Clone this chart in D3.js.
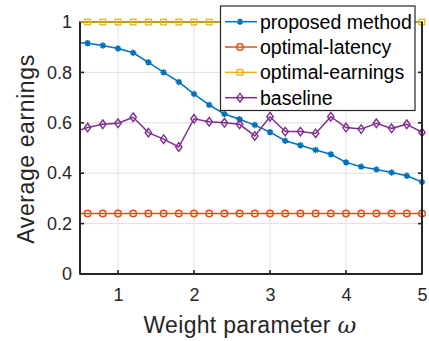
<!DOCTYPE html>
<html>
<head>
<meta charset="utf-8">
<script src="https://cdn.jsdelivr.net/npm/d3@7"></script>
<style>
  body { margin: 0; background: #fff; }
  svg { display: block; font-family: "Liberation Sans", Arial, sans-serif; }
</style>
</head>
<body>
<div id="chart"></div>
<script>
// weight parameter values (first point lies just left of the visible range)
const omega = [0.4, 0.6, 0.8, 1.0, 1.2, 1.4, 1.6, 1.8, 2.0, 2.2, 2.4, 2.6, 2.8,
               3.0, 3.2, 3.4, 3.6, 3.8, 4.0, 4.2, 4.4, 4.6, 4.8, 5.0];

const proposed = [0.92, 0.916, 0.907, 0.895, 0.878, 0.840, 0.800, 0.762, 0.714, 0.671, 0.635, 0.614, 0.591,
                  0.563, 0.529, 0.511, 0.492, 0.475, 0.443, 0.426, 0.415, 0.403, 0.390, 0.365];
const optLatency = [0.24, 0.24, 0.24, 0.24, 0.24, 0.24, 0.24, 0.24, 0.24, 0.24, 0.24, 0.24, 0.24,
                    0.24, 0.24, 0.24, 0.24, 0.24, 0.24, 0.24, 0.24, 0.24, 0.24, 0.24];
const optEarnings = [1, 1, 1, 1, 1, 1, 1, 1, 1, 1, 1, 1, 1, 1, 1, 1, 1, 1, 1, 1, 1, 1, 1, 1];
const baseline = [0.562, 0.581, 0.594, 0.598, 0.622, 0.561, 0.535, 0.504, 0.616, 0.604, 0.600, 0.594, 0.548,
                  0.624, 0.565, 0.565, 0.558, 0.624, 0.581, 0.575, 0.598, 0.578, 0.594, 0.562];

const seriesNames = ['proposed method', 'optimal-latency', 'optimal-earnings', 'baseline'];
const xTicks = [1, 2, 3, 4, 5];
const yTicks = [0, 0.2, 0.4, 0.6, 0.8, 1];

const series = [
  { name: seriesNames[0], values: proposed, color: '#0072BD', marker: 'star' },
  { name: seriesNames[1], values: optLatency, color: '#D95319', marker: 'circle' },
  { name: seriesNames[2], values: optEarnings, color: '#EDB120', marker: 'square' },
  { name: seriesNames[3], values: baseline, color: '#7E2F8E', marker: 'diamond' }
];

const W = 429, H = 341;
const margin = { left: 80, right: 7, top: 22, bottom: 67 };
const axisColor = '#262626';

const svg = d3.select('#chart').append('svg')
  .attr('width', W).attr('height', H);

const x = d3.scaleLinear().domain([0.5, 5]).range([margin.left, W - margin.right]);
const y = d3.scaleLinear().domain([0, 1]).range([H - margin.bottom, margin.top]);

svg.append('clipPath').attr('id', 'plot')
  .append('rect')
  .attr('x', x(0.5)).attr('y', y(1) - 1)
  .attr('width', x(5) - x(0.5)).attr('height', y(0) - y(1) + 2);

// grid
const grid = svg.append('g');
grid.selectAll('.gx').data(xTicks).enter().append('line')
  .attr('x1', d => x(d)).attr('x2', d => x(d))
  .attr('y1', y(0)).attr('y2', y(1))
  .attr('stroke', '#dfdfdf').attr('stroke-width', 1);
grid.selectAll('.gy').data(yTicks.filter(d => d > 0 && d < 1)).enter().append('line')
  .attr('y1', d => y(d)).attr('y2', d => y(d))
  .attr('x1', x(0.5)).attr('x2', x(5))
  .attr('stroke', '#dfdfdf').attr('stroke-width', 1);

function drawMarker(g, type, color) {
  if (type === 'circle') {
    g.append('circle').attr('r', 3.3)
      .attr('fill', 'none').attr('stroke', color).attr('stroke-width', 1.4);
  } else if (type === 'square') {
    g.append('rect').attr('x', -2.8).attr('y', -2.8).attr('width', 5.6).attr('height', 5.6)
      .attr('fill', 'none').attr('stroke', color).attr('stroke-width', 1.3);
  } else if (type === 'diamond') {
    g.append('path').attr('d', 'M0,-4.3L3.2,0L0,4.3L-3.2,0Z')
      .attr('fill', 'none').attr('stroke', color).attr('stroke-width', 1.4);
  } else {
    const r = 3.2;
    let d = '';
    for (let i = 0; i < 4; i++) {
      const a = i * Math.PI / 4;
      d += `M${-r * Math.cos(a)},${-r * Math.sin(a)}L${r * Math.cos(a)},${r * Math.sin(a)}`;
    }
    g.append('path').attr('d', d).attr('stroke', color).attr('stroke-width', 1.5);
    g.append('circle').attr('r', 2).attr('fill', color);
  }
}

const line = d3.line().x((d, i) => x(omega[i])).y(d => y(d));

const plot = svg.append('g');
series.forEach(s => {
  plot.append('path')
    .attr('d', line(s.values))
    .attr('clip-path', 'url(#plot)')
    .attr('fill', 'none').attr('stroke', s.color).attr('stroke-width', 1.5);
  s.values.forEach((v, i) => {
    if (omega[i] < 0.5) return;
    const g = plot.append('g').attr('transform', `translate(${x(omega[i])},${y(v)})`);
    drawMarker(g, s.marker, s.color);
  });
});

// axes box
const axes = svg.append('g');
axes.append('rect')
  .attr('x', x(0.5)).attr('y', y(1))
  .attr('width', x(5) - x(0.5)).attr('height', y(0) - y(1))
  .attr('fill', 'none').attr('stroke', axisColor).attr('stroke-width', 1.6);
// keep the yellow line on top of the top border
plot.raise();
svg.append('line')
  .attr('x1', x(0.5)).attr('x2', x(0.5)).attr('y1', y(0)).attr('y2', y(1))
  .attr('stroke', axisColor).attr('stroke-width', 2);
svg.append('line')
  .attr('x1', x(0.5)).attr('x2', x(5)).attr('y1', y(0)).attr('y2', y(0))
  .attr('stroke', axisColor).attr('stroke-width', 2);
svg.append('line')
  .attr('x1', x(5)).attr('x2', x(5)).attr('y1', y(0)).attr('y2', y(1))
  .attr('stroke', axisColor).attr('stroke-width', 2);

const tickLen = 4;
const xAxis = d3.axisBottom(x).tickValues(xTicks).tickSize(0).tickPadding(0).tickFormat(d3.format('d'));
const gx = svg.append('g').attr('transform', `translate(0,${y(0)})`).call(xAxis);
gx.select('.domain').remove();
gx.selectAll('text').attr('font-size', 18).attr('fill', axisColor).attr('font-family', null).attr('dy', '0.71em').attr('y', 14);
svg.selectAll('.xt').data(xTicks).enter().append('line')
  .attr('x1', d => x(d)).attr('x2', d => x(d)).attr('y1', y(0)).attr('y2', y(0) - tickLen)
  .attr('stroke', axisColor).attr('stroke-width', 1.6);

const yAxis = d3.axisLeft(y).tickValues(yTicks).tickSize(0).tickPadding(8).tickFormat(d => d3.format('')(d));
const gy = svg.append('g').attr('transform', `translate(${x(0.5)},0)`).call(yAxis);
gy.select('.domain').remove();
gy.selectAll('text').attr('font-size', 18).attr('fill', axisColor).attr('font-family', null);
[x(0.5), x(5)].forEach((px, k) => {
  svg.selectAll('.yt' + k).data(yTicks.filter(d => d > 0 && d < 1)).enter().append('line')
    .attr('y1', d => y(d)).attr('y2', d => y(d))
    .attr('x1', px).attr('x2', k === 0 ? px + tickLen : px - tickLen)
    .attr('stroke', axisColor).attr('stroke-width', 1.6);
});

// axis labels
const xl = svg.append('text')
  .attr('x', 250).attr('y', 333)
  .attr('text-anchor', 'middle').attr('font-size', 23).attr('letter-spacing', 0.3).attr('fill', axisColor);
xl.append('tspan').text('Weight parameter ');
xl.append('tspan').attr('font-style', 'italic').attr('font-family', 'DejaVu Serif, serif').text('\u03c9');

svg.append('text')
  .attr('transform', 'translate(34,149) rotate(-90)')
  .attr('text-anchor', 'middle').attr('font-size', 23).attr('letter-spacing', 0.6).attr('fill', axisColor)
  .text('Average earnings');

// legend
const legend = svg.append('g');
legend.append('rect')
  .attr('x', 220.5).attr('y', 6).attr('width', 194.5).attr('height', 104.5)
  .attr('fill', '#fff').attr('stroke', axisColor).attr('stroke-width', 1.2);
const rowY = d3.scaleLinear().domain([0, 3]).range([21.7, 97.7]);
series.forEach((s, i) => {
  const cy = rowY(i);
  legend.append('line').attr('x1', 225).attr('x2', 257).attr('y1', cy).attr('y2', cy)
    .attr('stroke', s.color).attr('stroke-width', 1.5);
  drawMarker(legend.append('g').attr('transform', `translate(240,${cy})`), s.marker, s.color);
  legend.append('text').attr('x', 260).attr('y', cy).attr('dy', '0.35em')
    .attr('font-size', 19.5).attr('fill', '#000').text(s.name);
});
</script>
</body>
</html>
